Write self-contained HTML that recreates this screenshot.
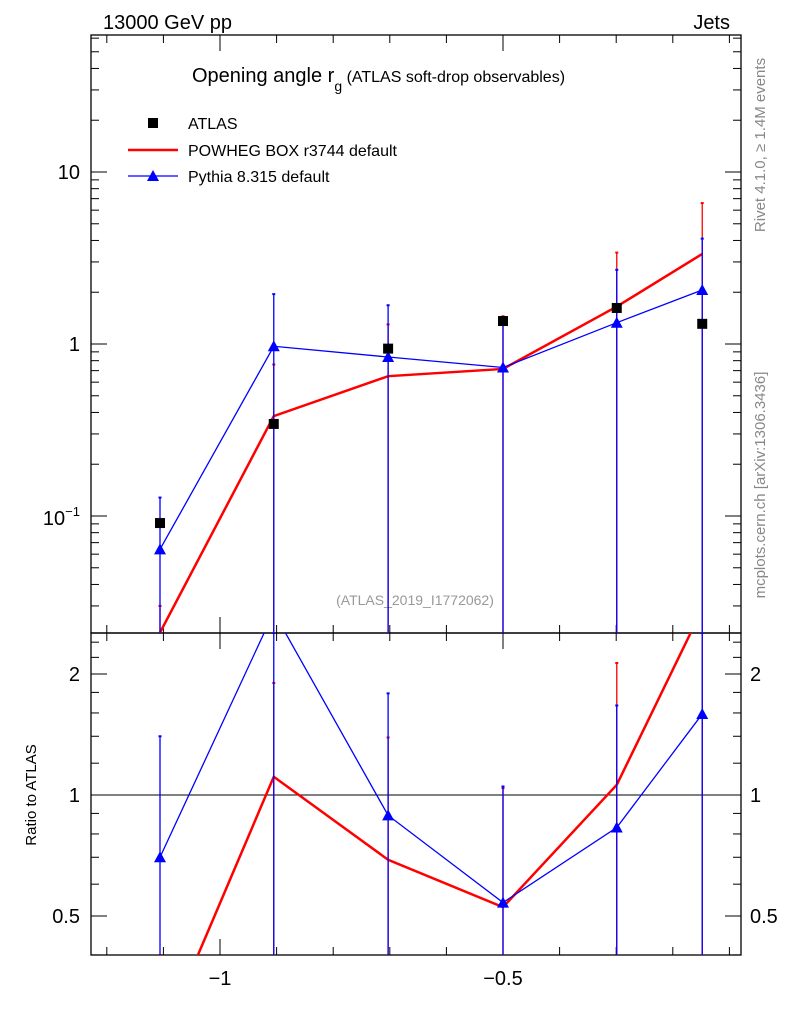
<!DOCTYPE html>
<html><head><meta charset="utf-8"><style>
body{margin:0;background:#fff}
svg{display:block;font-family:"Liberation Sans",sans-serif}
</style></head><body>
<svg id="c" width="786" height="1024" xmlns="http://www.w3.org/2000/svg">
<text x="103" y="29" font-size="20">13000 GeV pp</text>
<text x="730" y="29" font-size="20" text-anchor="end">Jets</text>
<text x="192" y="82" font-size="20">Opening angle r<tspan font-size="14" dy="9">g</tspan><tspan font-size="16" dy="-9"> (ATLAS soft-drop observables)</tspan></text>
<text x="765" y="145" font-size="15" fill="#888" transform="rotate(-90 765 145)" text-anchor="middle">Rivet 4.1.0, ≥ 1.4M events</text>
<text x="765" y="485" font-size="15" fill="#888" transform="rotate(-90 765 485)" text-anchor="middle">mcplots.cern.ch [arXiv:1306.3436]</text>
<text x="415" y="605" font-size="14" fill="#999" text-anchor="middle">(ATLAS_2019_I1772062)</text>
<text x="36" y="795" font-size="15" transform="rotate(-90 36 795)" text-anchor="middle">Ratio to ATLAS</text>
<g>
<rect x="148" y="118" width="10" height="10" fill="#000"/>
<text x="188" y="129" font-size="16">ATLAS</text>
<line x1="128" y1="150" x2="178" y2="150" stroke="red" stroke-width="2.5"/>
<text x="188" y="156" font-size="16">POWHEG BOX r3744 default</text>
<line x1="128" y1="176" x2="178" y2="176" stroke="blue" stroke-width="1.3"/>
<polygon points="153,170 159,181 147,181" fill="blue"/>
<text x="188" y="182" font-size="16">Pythia 8.315 default</text>
</g>
<g id="g"></g>
</svg>
<script>
const xs=[-1.106,-0.905,-0.703,-0.5,-0.299,-0.148];
const atlas=[0.091,0.343,0.94,1.36,1.62,1.31];
const powheg=[0.021,0.381,0.65,0.716,1.65,3.34];
const powhegUp=[0.03,0.76,1.3,1.45,3.4,6.6];
const pythia=[0.064,0.97,0.84,0.73,1.33,2.06];
const pythiaUp=[0.128,1.95,1.68,1.4,2.7,4.1];
const ratioPowheg=[0.24,1.11,0.69,0.526,1.06,2.9];
const ratioPowhegUp=[0.3,1.9,1.39,1.04,2.13,4];
const ratioPythia=[0.70,2.85,0.89,0.54,0.83,1.59];
const ratioPythiaUp=[1.40,4,1.79,1.05,1.67,4];
const L=91,R=741,T=35,MB=633,B=955;
const X=v=>220+(v+1)*566;
const Y=v=>344-Math.log10(v)*172;
const YR=v=>795-Math.log2(v)*121;
const g=document.getElementById('g');const NS='http://www.w3.org/2000/svg';
function mk(t,a,n){const e=document.createElementNS(NS,t);for(const k in a)e.setAttribute(k,a[k]);


g.appendChild(e);return e;}
const cl=(v,a,b)=>Math.max(a,Math.min(b,v));
mk('rect',{x:L,y:T,width:R-L,height:MB-T,fill:'none',stroke:'#000','stroke-width':1.3},'main-frame');
mk('rect',{x:L,y:MB,width:R-L,height:B-MB,fill:'none',stroke:'#000','stroke-width':1.3},'ratio-frame');
mk('line',{x1:L,y1:YR(1),x2:R,y2:YR(1),stroke:'#000'},'ratio-unity-line');
for(let i=-12;i<=-1;i++){const v=i/10;const x=X(v);if(x<L||x>R)continue;const maj=(i%5==0);const len=maj?16:8;
[[MB,-1],[B,-1],[T,1],[MB,1]].forEach(([y,d])=>mk('line',{x1:x,y1:y,x2:x,y2:y+d*len,stroke:'#000'},'x-tick'));
if(maj){const t=mk('text',{x:x,y:985,'font-size':20,'text-anchor':'middle'},'x-tick-label');t.textContent=(v==-1?'−1':'−0.5');}}
for(let d=-2;d<=1;d++)for(let m=1;m<10;m++){const v=m*Math.pow(10,d);const y=Y(v);if(y<T||y>MB)continue;const len=m==1?16:8;
mk('line',{x1:L,y1:y,x2:L+len,y2:y,stroke:'#000'},'y-tick');mk('line',{x1:R,y1:y,x2:R-len,y2:y,stroke:'#000'},'y-tick');}
[[10,'10'],[1,'1']].forEach(([v,s])=>{const t=mk('text',{x:80,y:Y(v)+7,'font-size':20,'text-anchor':'end'},'y-tick-label');t.textContent=s;});
const t1=mk('text',{x:80,y:Y(0.1)+9,'font-size':20,'text-anchor':'end'},'y-tick-label');t1.innerHTML='10<tspan font-size="13" dy="-9">−1</tspan>';
[0.4,0.5,0.6,0.7,0.8,0.9,1,1.2,1.4,1.6,1.8,2,2.2,2.4].forEach(v=>{const y=YR(v);const len=[0.5,1,2].includes(v)?16:8;
mk('line',{x1:L,y1:y,x2:L+len,y2:y,stroke:'#000'},'ratio-tick');mk('line',{x1:R,y1:y,x2:R-len,y2:y,stroke:'#000'},'ratio-tick');});
[[2,'2'],[1,'1'],[0.5,'0.5']].forEach(([v,s])=>{let t=mk('text',{x:80,y:YR(v)+7,'font-size':20,'text-anchor':'end'},'ratio-tick-label');t.textContent=s;
t=mk('text',{x:750,y:YR(v)+7,'font-size':20},'ratio-tick-label-right');t.textContent=s;});
const defs=document.createElementNS(NS,'defs');defs.innerHTML='<clipPath id="cm"><rect x="91" y="35" width="650" height="598"/></clipPath><clipPath id="cr"><rect x="91" y="633" width="650" height="322"/></clipPath>';g.appendChild(defs);
function series(vals,ups,Yf,top,bot,col,w,tri,clip,name){
const grp=mk('g',{'clip-path':'url(#'+clip+')'},name);
vals.forEach((v,i)=>{const x=X(xs[i]);const yu=cl(Yf(ups[i]),top,bot);
const e=mk('line',{x1:x,y1:yu,x2:x,y2:bot,stroke:col,'stroke-width':1.3},name+'-error');grp.appendChild(e);
const c=mk('line',{x1:x-1.5,y1:yu,x2:x+1.5,y2:yu,stroke:col,'stroke-width':2},name+'-error-cap');grp.appendChild(c);});
const p=mk('polyline',{points:vals.map((v,i)=>X(xs[i])+','+Yf(v)).join(' '),fill:'none',stroke:col,'stroke-width':w},name+'-line');grp.appendChild(p);
if(tri)vals.forEach((v,i)=>{const x=X(xs[i]),y=Yf(v);const q=mk('polygon',{points:`${x},${y-6} ${x+6},${y+5} ${x-6},${y+5}`,fill:col},name+'-marker');grp.appendChild(q);});}
series(powheg,powhegUp,Y,T,MB,'red',2.5,false,'cm','powheg');
series(pythia,pythiaUp,Y,T,MB,'blue',1.3,true,'cm','pythia');
atlas.forEach((v,i)=>mk('rect',{x:X(xs[i])-5,y:Y(v)-5,width:10,height:10,fill:'#000'},'atlas-point'));
series(ratioPowheg,ratioPowhegUp,YR,MB,B,'red',2.5,false,'cr','ratio-powheg');
series(ratioPythia,ratioPythiaUp,YR,MB,B,'blue',1.3,true,'cr','ratio-pythia');
</script>
</body></html>
